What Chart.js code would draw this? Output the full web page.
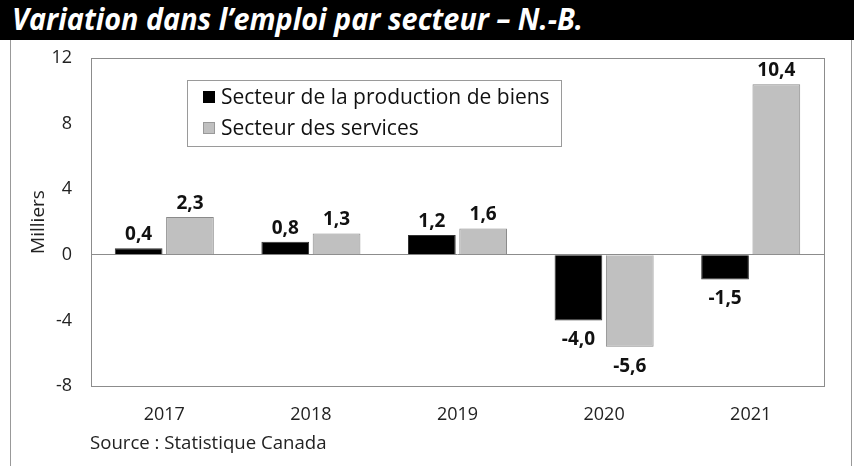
<!DOCTYPE html>
<html>
<head>
<meta charset="utf-8">
<script src="https://cdn.jsdelivr.net/npm/chart.js@4/dist/chart.umd.min.js"></script>
<style>
  html, body { margin: 0; padding: 0; background: #fff; }
  #wrap { position: relative; width: 854px; height: 466px; overflow: hidden; }
  #titlebar { position: absolute; left: 0; top: 0; width: 854px; height: 40px; background: #000; }
  #titlebar span { position: absolute; left: 12px; top: -2px; color: #fff; font: italic bold 30px "Open Sans", sans-serif; white-space: nowrap; transform-origin: left center; transform: scaleX(0.96); }
  #frame { position: absolute; left: 10px; top: 40px; width: 840px; height: 430px; border-left: 1px solid #999; border-right: 1px solid #999; }
  #source { position: absolute; left: 90px; top: 429px; font: 18.6px "Open Sans", sans-serif; color: #222; }
  canvas { position: absolute; left: 0; top: 0; }
</style>
</head>
<body>
<div id="wrap">
  <div id="frame"></div>
  <canvas id="c" width="854" height="466"></canvas>
  <div id="titlebar"><span>Variation dans l’emploi par secteur – N.-B.</span></div>
  <div id="source">Source : Statistique Canada</div>
</div>
<script>
// données
var annees = ['2017', '2018', '2019', '2020', '2021'];
var biens = [0.4, 0.8, 1.2, -4.0, -1.5];
var services = [2.3, 1.3, 1.6, -5.6, 10.4];
var nomsSeries = ['Secteur de la production de biens', 'Secteur des services'];
var ticksY = [12, 8, 4, 0, -4, -8];

var police = '"Open Sans", sans-serif';

// cadre du graphique + légende dans la zone
var cadrePlugin = {
  id: 'cadre',
  afterDraw: function(chart) {
    var ctx = chart.ctx, a = chart.chartArea;
    ctx.save();
    ctx.strokeStyle = '#8c8c8c';
    ctx.lineWidth = 1;
    ctx.strokeRect(Math.round(a.left) + 0.5, Math.round(a.top) + 0.5, Math.round(a.right - a.left), Math.round(a.bottom - a.top));

    // légende
    ctx.fillStyle = '#fff';
    ctx.fillRect(187.5, 80.5, 374, 66);
    ctx.strokeStyle = '#9a9a9a';
    ctx.strokeRect(187.5, 80.5, 374, 66);
    ctx.font = '21px ' + police;
    ctx.textBaseline = 'middle';
    ctx.textAlign = 'left';
    chart.data.datasets.forEach(function(ds, i) {
      var y = 97 + i * 31;
      ctx.fillStyle = ds.backgroundColor;
      ctx.fillRect(203, y - 6, 12, 12);
      if (i == 1) { ctx.strokeStyle = '#999'; ctx.strokeRect(203.5, y - 5.5, 11, 11); }
      ctx.fillStyle = '#111';
      ctx.fillText(ds.label, 221, y + 1);
    });

    // étiquettes de valeurs
    ctx.font = 'bold 19px ' + police;
    ctx.textAlign = 'center';
    ctx.fillStyle = '#111';
    chart.data.datasets.forEach(function(ds, i) {
      chart.getDatasetMeta(i).data.forEach(function(bar, j) {
        var v = ds.data[j];
        var txt = v.toFixed(1).replace('.', ',');
        if (v >= 0) {
          ctx.textBaseline = 'bottom';
          ctx.fillText(txt, bar.x, bar.y - 4);
        } else {
          ctx.textBaseline = 'top';
          ctx.fillText(txt, bar.x, bar.y + 10);
        }
      });
    });
    ctx.restore();
  }
};

new Chart(document.getElementById('c'), {
  type: 'bar',
  data: {
    labels: annees,
    datasets: [
      { label: nomsSeries[0], data: biens, backgroundColor: '#000000', borderColor: '#333', borderWidth: 1 },
      { label: nomsSeries[1], data: services, backgroundColor: '#c0c0c0', borderColor: '#8a8a8a', borderWidth: 1 }
    ]
  },
  options: {
    responsive: false,
    animation: false,
    events: [],
    categoryPercentage: 0.7,
    barPercentage: 0.93,
    layout: { padding: { top: 58, right: 30, left: 0, bottom: 0 } },
    plugins: { legend: { display: false }, tooltip: { enabled: false } },
    scales: {
      x: {
        grid: { display: false },
        border: { display: false },
        ticks: { color: '#222', font: { family: police, size: 18 }, padding: 10 },
        afterFit: function(s) { s.height = 466 - 58 - 328; }
      },
      y: {
        min: -8, max: 12,
        afterBuildTicks: function(s) { s.ticks = ticksY.map(function(v) { return { value: v }; }); },
        grid: {
          drawTicks: false,
          color: function(c) { return c.tick && c.tick.value === 0 ? '#8c8c8c' : 'rgba(0,0,0,0)'; }
        },
        border: { display: false },
        ticks: { color: '#222', font: { family: police, size: 18 }, padding: 19 },
        title: { display: true, text: 'Milliers', color: '#222', font: { family: police, size: 19 }, padding: { top: 27 } },
        afterFit: function(s) { s.width = 91; }
      }
    }
  },
  plugins: [cadrePlugin]
});
</script>
</body>
</html>
